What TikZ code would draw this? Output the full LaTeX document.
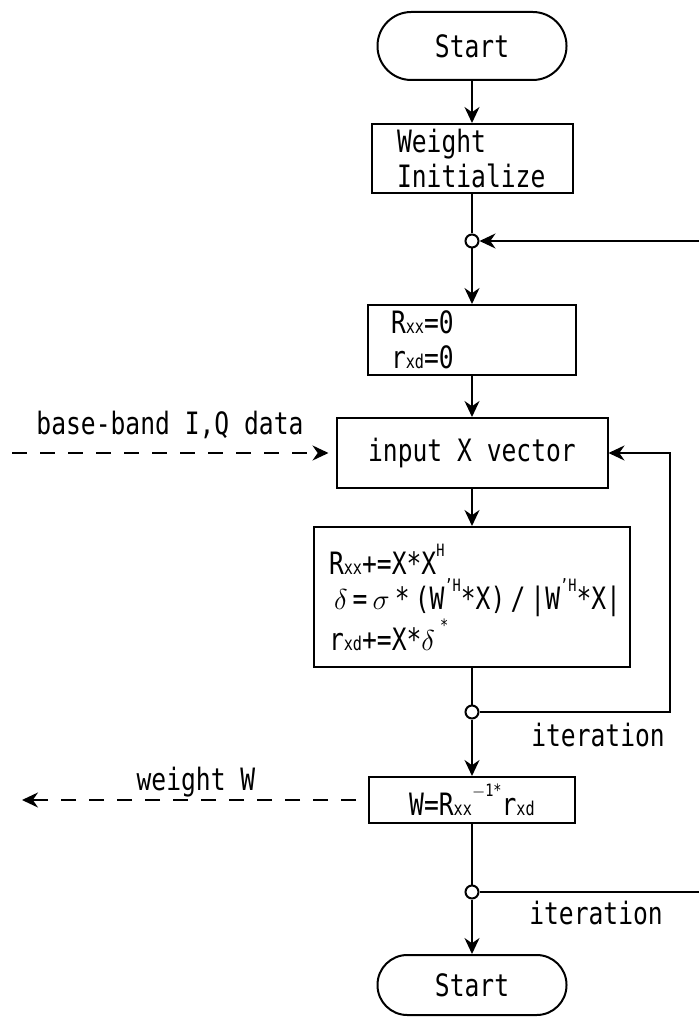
\documentclass[tikz,border=0pt]{standalone}
\usepackage{fontspec}
\setmainfont[FakeStretch=0.8]{DejaVu Sans Mono}
\usetikzlibrary{arrows.meta}

\newcommand\subs[1]{{\fontsize{9.5}{9.5}\selectfont #1}}
\newcommand\sups[1]{\raisebox{1.1ex}{\fontsize{8.5}{8.5}\selectfont #1}}

\begin{document}
\begin{tikzpicture}[x=0.5pt,y=-0.5pt,line width=1pt,
    every node/.style={font=\fontsize{15.4}{17.5}\selectfont},
    terminal/.style={draw,rounded corners=16.9pt,minimum width=94.5pt,minimum height=34pt,inner sep=0pt},
    proc/.style={draw,inner sep=0pt,align=left},
    junction/.style={circle,draw,fill=white,inner sep=0pt,minimum size=6.5pt},
    flow/.style={-{Stealth[length=8pt,width=7.5pt]}},
    data/.style={flow,dash pattern=on 7.5pt off 6.5pt}]
  \useasboundingbox (0,0) rectangle (699,1021);

  \node[terminal] (start) at (472,46) {Start};
  \node[proc,minimum width=100.5pt,minimum height=34.5pt,text width=75pt] (init) at (472,158.5) {Weight\\Initialize};
  \node[junction] (c1) at (472,241) {};
  \node[proc,minimum width=104pt,minimum height=35pt,text width=81pt] (reset) at (472,340)
    {R\subs{xx}=0\\r\subs{xd}=0};
  \node[proc,minimum width=135.5pt,minimum height=35pt,align=center] (input) at (472,453) {input X vector};
  \node[proc,minimum width=158pt,minimum height=70pt,text width=143pt] (update) at (472,597)
    {R\subs{xx}+=X*X\sups{H}\\
     \mbox{\hspace{2.5pt}$\delta$\,=\,$\sigma$\,*\,(W\sups{'H}*X)\,/\,|W\sups{'H}*X|}\\
     r\subs{xd}+=X*$\delta$\,\sups{*}};
  \node[junction] (c2) at (472,712) {};
  \node[proc,minimum width=103pt,minimum height=23pt,align=center] (solve) at (472,800)
    {W=R\subs{xx}\sups{$-$1*}r\subs{xd}};
  \node[junction] (c3) at (472,892) {};
  \node[terminal,minimum height=30pt,rounded corners=14.9pt] (stop) at (472,985) {Start};

  % labels
  \node (iqlabel) at (170,425) {base-band I,Q data};
  \node (wlabel) at (196,782) {weight W};
  \node (iter1) at (598,735) {iteration};
  \node (iter2) at (596,913) {iteration};

  \coordinate (backin) at (699,241);
  \coordinate (loop) at (670,712);
  \coordinate (backout) at (699,892);
  \coordinate (iqsrc) at (12,453);
  \coordinate (wdst) at (22,800);

  \draw[flow] (start) -- (init);
  \draw (init) -- (c1);
  \draw[flow] (backin) -- (c1);
  \draw[flow] (c1) -- (reset);
  \draw[flow] (reset) -- (input);
  \draw[flow] (input) -- (update);
  \draw (update) -- (c2);
  \draw[flow] (c2) -- (loop) |- (input);
  \draw[flow] (c2) -- (solve);
  \draw (solve) -- (c3);
  \draw (c3) -- (backout);
  \draw[flow] (c3) -- (stop);
  \draw[data,shorten >=3.5pt] (iqsrc) -- (input);
  \draw[data,shorten <=6pt] (solve) -- (wdst);
\end{tikzpicture}
\end{document}
